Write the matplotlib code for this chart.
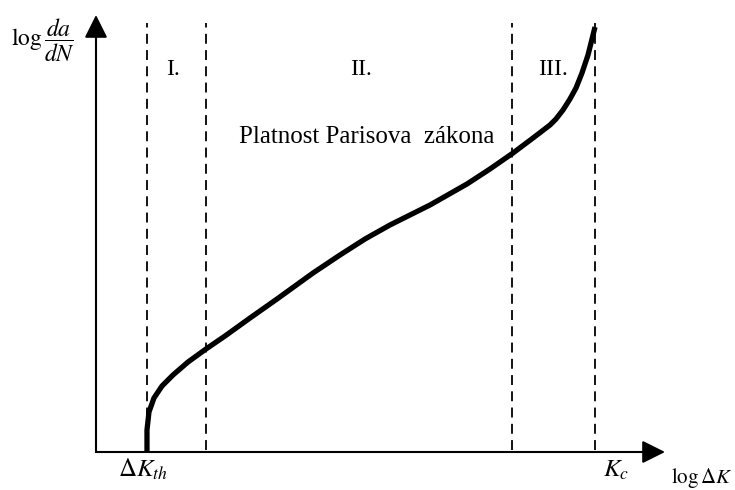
import matplotlib
matplotlib.use('Agg')
import matplotlib.pyplot as plt
from matplotlib.patches import FancyArrowPatch

plt.rcParams['font.family'] = ['Liberation Serif', 'DejaVu Serif']
plt.rcParams['mathtext.fontset'] = 'stix'

# crack growth curve, log(da/dN) vs log(dK), arbitrary units 0..10
curve_x = [0.896, 0.896, 0.931, 1.019, 1.16, 1.353, 1.617, 1.933, 2.267, 2.707,
           3.181, 3.814, 4.288, 4.728, 5.167, 5.87, 6.52, 6.924, 7.329, 7.68,
           7.979, 8.084, 8.207, 8.33, 8.436, 8.541, 8.647, 8.77]
curve_y = [0.0, 0.503, 0.915, 1.236, 1.51, 1.762, 2.059, 2.357, 2.654, 3.066,
           3.501, 4.096, 4.508, 4.874, 5.195, 5.652, 6.133, 6.476, 6.842, 7.185,
           7.483, 7.62, 7.826, 8.078, 8.33, 8.673, 9.085, 9.725]

# region boundaries: dK_th, end of region I, start of region III, K_c
bounds = [0.896, 1.933, 7.31, 8.77]
bound_top = 9.82

regions = ['I.', 'II.', 'III.']
region_x = [1.35, 4.66, 8.03]
region_y = 8.75

fig = plt.figure(figsize=(7.35, 4.9), dpi=100)
ax = fig.add_axes([96 / 735, 38 / 490, 569 / 735, 437 / 490])
ax.set_xlim(0, 10)
ax.set_ylim(0, 10)
ax.axis('off')

# axes with arrow heads
for end in [(10, 0), (0, 10)]:
    arr = FancyArrowPatch((0, 0), end, arrowstyle='-|>,head_length=0.7,head_width=0.35',
                          mutation_scale=20, lw=1.5, color='black',
                          shrinkA=0, shrinkB=0, clip_on=False)
    ax.add_patch(arr)

for b in bounds:
    ax.plot([b, b], [0.05, bound_top], color='black', lw=1.3,
            ls=(0, (5.5, 3.5)), clip_on=False)

ax.plot(curve_x, curve_y, color='black', lw=3.8, solid_capstyle='butt',
        solid_joinstyle='round', clip_on=False)

for name, x in zip(regions, region_x):
    ax.text(x, region_y, name, fontsize=17, ha='center', va='center')

ax.text(4.76, 7.2, 'Platnost Parisova  zákona', fontsize=18, ha='center', va='center')

fig.text(43 / 735, 1 - 40 / 490, r'$\log\dfrac{da}{dN}$', fontsize=17,
         ha='center', va='center')
fig.text(143 / 735, 1 - 477 / 490, r'$\Delta K_{th}$', fontsize=18,
         ha='center', va='baseline')
fig.text(616 / 735, 1 - 477 / 490, r'$K_c$', fontsize=18,
         ha='center', va='baseline')
fig.text(671 / 735, 1 - 483 / 490, r'$\log\Delta K$', fontsize=15,
         ha='left', va='baseline')

fig.savefig('out.png', dpi=100)
